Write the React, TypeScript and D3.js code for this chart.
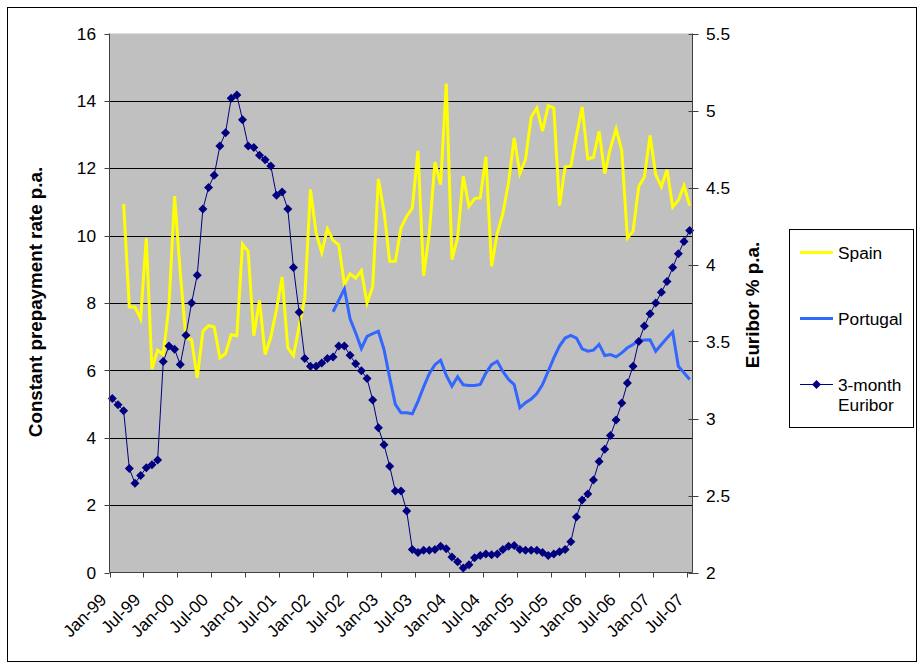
import React from "react";
import * as d3 from "d3";

const months: string[] = d3.timeMonth
  .range(new Date(1999, 0, 1), new Date(2007, 7, 1))
  .map((d) => d3.timeFormat("%b-%y")(d));

const tickLabels = [
  "Jan-99", "Jul-99", "Jan-00", "Jul-00", "Jan-01", "Jul-01", "Jan-02", "Jul-02", "Jan-03",
  "Jul-03", "Jan-04", "Jul-04", "Jan-05", "Jul-05", "Jan-06", "Jul-06", "Jan-07", "Jul-07",
];

const leftTicks = [0, 2, 4, 6, 8, 10, 12, 14, 16];
const rightTicks = [2, 2.5, 3, 3.5, 4, 4.5, 5, 5.5];

// 3-month Euribor, % p.a. (Jan-99 .. Jul-07)
const euribor: number[] = [
  3.13, 3.09, 3.05, 2.675, 2.58, 2.63, 2.68, 2.7, 2.73, 3.37, 3.47, 3.45,
  3.35, 3.54, 3.75, 3.93, 4.36, 4.5, 4.58, 4.77, 4.855, 5.08, 5.1, 4.94,
  4.77, 4.76, 4.71, 4.68, 4.64, 4.45, 4.47, 4.36, 3.98, 3.69, 3.39, 3.34,
  3.34, 3.36, 3.39, 3.4, 3.47, 3.47, 3.41, 3.355, 3.31, 3.26, 3.12, 2.94,
  2.83, 2.69, 2.53, 2.53, 2.4, 2.15, 2.13, 2.145, 2.145, 2.15, 2.17, 2.155,
  2.1, 2.07, 2.03, 2.05, 2.095, 2.11, 2.12, 2.115, 2.12, 2.15, 2.17, 2.175,
  2.15, 2.145, 2.145, 2.145, 2.13, 2.11, 2.12, 2.135, 2.15, 2.2, 2.36, 2.47,
  2.51, 2.6, 2.72, 2.8, 2.89, 2.99, 3.1, 3.23, 3.34, 3.5, 3.6, 3.68,
  3.75, 3.82, 3.89, 3.98, 4.07, 4.15, 4.22,
];

// Spain CPR (Jan-99 .. Jul-07), starts Mar-99
const spain: (number | null)[] = [
  null, null, 10.94, 7.88, 7.88, 7.53, 9.92, 6.04, 6.6, 6.47, 7.9, 11.17,
  8.9, 6.96, 6.91, 5.78, 7.16, 7.33, 7.29, 6.37, 6.5, 7.06, 7.03, 9.75,
  9.53, 7.03, 8.08, 6.47, 6.99, 7.8, 8.77, 6.67, 6.44, 7.3, 8.15, 11.37,
  10.08, 9.5, 10.2, 9.86, 9.73, 8.55, 8.87, 8.74, 8.96, 8.0, 8.48, 11.68,
  10.72, 9.24, 9.24, 10.23, 10.57, 10.82, 12.52, 8.81, 10.08, 12.18, 11.51, 14.51,
  9.29, 9.93, 11.76, 10.87, 11.1, 11.12, 12.34, 9.09, 10.06, 10.65, 11.58, 12.9,
  11.84, 12.26, 13.52, 13.79, 13.1, 13.86, 13.79, 10.89, 12.04, 12.06, 12.97, 13.82,
  12.28, 12.32, 13.1, 11.84, 12.6, 13.17, 12.53, 9.93, 10.13, 11.46, 11.74, 12.97,
  11.81, 11.45, 11.96, 10.85, 11.05, 11.48, 10.89,
];

// Portugal CPR (Jan-99 .. Jul-07), starts Apr-02
const portugal: (number | null)[] = [
  ...Array(39).fill(null),
  7.74, 8.08, 8.42, 7.53, 7.11, 6.65, 7.01, 7.09, 7.16,
  6.62, 5.78, 4.99, 4.74, 4.74, 4.71, 5.08, 5.51, 5.9, 6.17, 6.3, 5.85,
  5.53, 5.81, 5.57, 5.55, 5.55, 5.58, 5.92, 6.17, 6.27, 5.97, 5.73, 5.58,
  4.89, 5.04, 5.15, 5.31, 5.58, 5.97, 6.37, 6.72, 6.96, 7.04, 6.96, 6.64,
  6.57, 6.6, 6.77, 6.44, 6.47, 6.4, 6.52, 6.67, 6.77, 6.89, 6.9, 6.91,
  6.57, 6.77, 6.96, 7.14, 6.12, 5.93, 5.73,
];

const FONT = "'Liberation Sans', Arial, sans-serif";
const FS = 17.3;
const TITLE_FS = 18.8;

export default function App() {
  const left = 109.5;
  const right = 692.5;
  const top = 33.5;
  const bottom = 572.5;

  const x = d3.scaleBand<string>().domain(months).range([left, right]).padding(0);
  const cx = (i: number) => (x(months[i]) as number) + x.bandwidth() / 2;
  const yL = d3.scaleLinear().domain([0, 16]).range([bottom, top]);
  const yR = d3.scaleLinear().domain([2, 5.5]).range([bottom, top]);

  const lineL = d3
    .line<number | null>()
    .defined((d) => d !== null)
    .x((_, i) => cx(i))
    .y((d) => yL(d as number));
  const lineR = d3
    .line<number>()
    .x((_, i) => cx(i))
    .y((d) => yR(d));

  const diamond = "M0,-4.5L4.5,0L0,4.5L-4.5,0Z";

  return (
    <svg
      width={920}
      height={665}
      style={{ position: "absolute", left: 0, top: 0, background: "#fff" }}
      fontFamily={FONT}
    >
      <rect x={7.5} y={7.5} width={909} height={654} fill="#fff" stroke="#000" strokeWidth={1} />
      {/* plot area */}
      <rect x={left} y={top} width={right - left} height={bottom - top} fill="#C0C0C0" />
      {leftTicks
        .filter((t) => t > 0 && t < 16)
        .map((t) => (
          <line key={"g" + t} x1={left} x2={right} y1={Math.round(yL(t)) + 0.5} y2={Math.round(yL(t)) + 0.5} stroke="#000" strokeWidth={1} />
        ))}

      {/* series */}
      <path d={lineL(spain) || ""} fill="none" stroke="#FFFF00" strokeWidth={3} />
      <path d={lineL(portugal) || ""} fill="none" stroke="#3366FF" strokeWidth={3} />
      <path d={lineR(euribor) || ""} fill="none" stroke="#000080" strokeWidth={1} />
      {euribor.map((v, i) => (
        <path key={"m" + i} d={diamond} transform={`translate(${cx(i)},${yR(v)})`} fill="#000080" />
      ))}

      {/* axes */}
      <line x1={left} x2={left} y1={top} y2={bottom} stroke="#404040" />
      <line x1={right} x2={right} y1={top} y2={bottom} stroke="#404040" />
      <line x1={left} x2={right} y1={bottom} y2={bottom} stroke="#404040" />
      {leftTicks.map((t) => (
        <g key={"lt" + t}>
          <line x1={left - 5} x2={left} y1={Math.round(yL(t)) + 0.5} y2={Math.round(yL(t)) + 0.5} stroke="#404040" />
          <text x={96} y={yL(t)} dy="0.36em" textAnchor="end" fontSize={FS} fill="#000">
            {t}
          </text>
        </g>
      ))}
      {rightTicks.map((t) => (
        <g key={"rt" + t}>
          <line x1={right - 4} x2={right + 6} y1={Math.round(yR(t)) + 0.5} y2={Math.round(yR(t)) + 0.5} stroke="#404040" />
          <text x={706} y={yR(t)} dy="0.36em" textAnchor="start" fontSize={FS} fill="#000">
            {t}
          </text>
        </g>
      ))}
      {tickLabels.map((lab, k) => {
        const tx = x(months[k * 6]) as number;
        return (
          <g key={"xt" + lab}>
            <line x1={Math.round(tx) + 0.5} x2={Math.round(tx) + 0.5} y1={bottom} y2={bottom + 5} stroke="#404040" />
            <text
              transform={`translate(${tx - 2},${601}) rotate(-45)`}
              textAnchor="end"
              fontSize={FS}
              fill="#000"
            >
              {lab}
            </text>
          </g>
        );
      })}

      {/* axis titles */}
      <text transform="translate(42,302) rotate(-90)" textAnchor="middle" fontSize={TITLE_FS} fontWeight="bold">
        Constant prepayment rate p.a.
      </text>
      <text transform="translate(759,305) rotate(-90)" textAnchor="middle" fontSize={TITLE_FS} fontWeight="bold">
        Euribor % p.a.
      </text>

      {/* legend */}
      <rect x={789.5} y={229.5} width={124} height={198} fill="#fff" stroke="#000" />
      <line x1={800} x2={833} y1={252.5} y2={252.5} stroke="#FFFF00" strokeWidth={3} />
      <text x={838} y={252.5} dy="0.36em" fontSize={FS}>Spain</text>
      <line x1={800} x2={833} y1={318.5} y2={318.5} stroke="#3366FF" strokeWidth={3} />
      <text x={838} y={318.5} dy="0.36em" fontSize={FS}>Portugal</text>
      <line x1={800} x2={833} y1={384.5} y2={384.5} stroke="#000080" strokeWidth={1} />
      <path d={diamond} transform="translate(816.5,384.5)" fill="#000080" />
      <text x={838} y={384.5} dy="0.36em" fontSize={FS}>3-month</text>
      <text x={838} y={404.5} dy="0.36em" fontSize={FS}>Euribor</text>
    </svg>
  );
}
